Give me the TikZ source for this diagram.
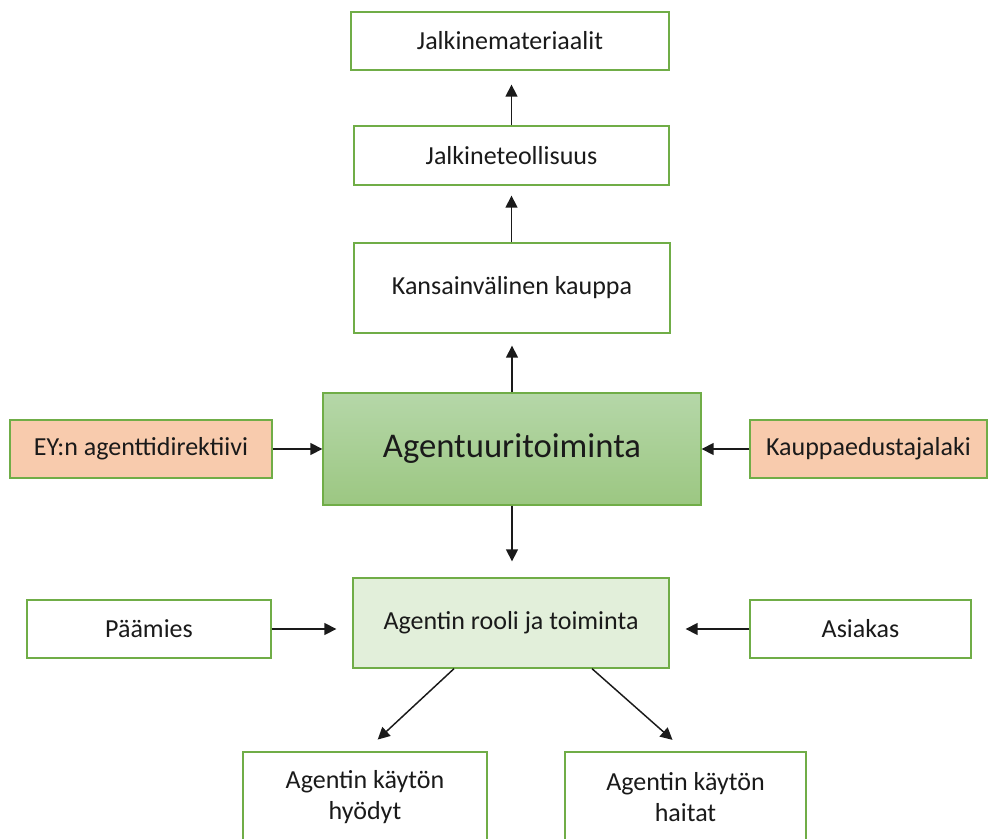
\documentclass[tikz,border=0pt]{standalone}
\usepackage{fontspec}
\setmainfont{Carlito}
\usetikzlibrary{arrows.meta}
\definecolor{boxline}{HTML}{70AD47}
\definecolor{peach}{HTML}{F8CBAD}
\definecolor{palegreen}{HTML}{E2EFDA}
\definecolor{midtop}{HTML}{B5D7A8}
\definecolor{midbot}{HTML}{9CC782}
\definecolor{ink}{HTML}{1A1A1A}
\tikzset{
  box/.style={draw=boxline, line width=1pt, fill=white, inner sep=2pt,
    text=ink, font=\fontsize{19.5}{23}\selectfont, align=center},
  wbox/.style 2 args={box, minimum width=#1*0.75pt, minimum height=#2*0.75pt},
  arr/.style={draw=ink, line width=1.1pt, -{Triangle[length=9pt,width=9pt]}},
}
\begin{document}
\begin{tikzpicture}[x=0.75pt,y=-0.75pt]
\useasboundingbox (0,0) rectangle (998,838);
\clip (0,0) rectangle (998,838);

% upper chain
\node[wbox={318}{58}] (mat) at (510,41) {Jalkinemateriaalit};
\node[wbox={315}{59}] (teol) at (511.5,155.5) {Jalkineteollisuus};
\node[wbox={316}{90}] (kaup) at (512,288) {Kansainvälinen kauppa};

% central activity
\node[wbox={378}{112}, top color=midtop, bottom color=midbot,
      font=\fontsize{26}{30}\selectfont] (agt) at (512,449) {Agentuuritoiminta};

% legal frame
\node[wbox={262}{58}, fill=peach] (ey) at (141,449) {EY:n agenttidirektiivi};
\node[wbox={237}{58}, fill=peach] (laki) at (868.5,449) {Kauppaedustajalaki};

% agent role and parties
\node[wbox={316}{90}, fill=palegreen] (rooli) at (511,623) {Agentin rooli ja toiminta};
\node[wbox={244}{58}] (paa) at (149,629) {Päämies};
\node[wbox={221}{58}] (asi) at (860.5,629) {Asiakas};

% benefits and drawbacks
\node[wbox={244}{90}] (hyo) at (365,797) {Agentin käytön\\hyödyt};
\node[wbox={241}{90}] (hai) at (685.5,797) {Agentin käytön\\haitat};

% connectors
\draw[arr, shorten >=10.5pt] (teol.north) -- (teol.north |- mat.south);
\draw[arr, shorten >=7.5pt] (kaup.north -| teol.north) -- (teol.south);
\draw[arr, shorten >=9pt] (agt.north) -- (agt.north |- kaup.south);
\draw[arr] (ey.east) -- (agt.west |- ey.east);
\draw[arr] (laki.west) -- (agt.east |- laki.west);
\draw[arr, shorten >=12pt] (agt.south) -- (agt.south |- rooli.north);
\draw[arr, shorten >=12pt] (paa.east) -- (rooli.west |- paa.east);
\draw[arr, shorten >=12pt] (asi.west) -- (rooli.east |- asi.west);
\draw[arr, shorten >=13pt] ([xshift=-57*0.75pt]rooli.south) -- (hyo.north);
\draw[arr, shorten >=13pt] ([xshift=81*0.75pt]rooli.south) -- (hai.north);
\end{tikzpicture}
\end{document}
